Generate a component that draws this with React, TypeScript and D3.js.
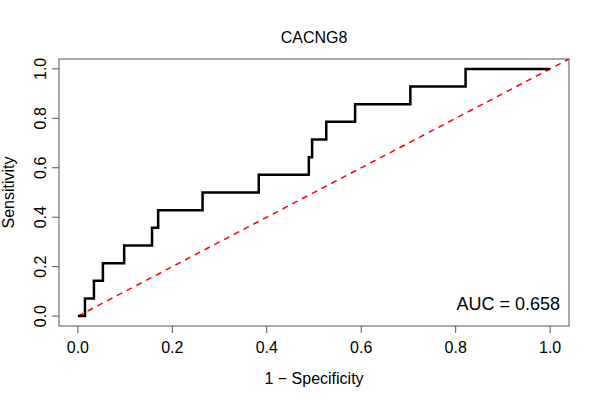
import React from "react";
import * as d3 from "d3";

const fpr = [0, 0.015, 0.015, 0.034, 0.034, 0.053, 0.053, 0.098, 0.098, 0.157, 0.157, 0.170, 0.170, 0.264, 0.264, 0.383, 0.383, 0.489, 0.489, 0.496, 0.496, 0.526, 0.526, 0.587, 0.587, 0.704, 0.704, 0.821, 0.821, 1.0];
const tprSteps = [0, 0, 1, 1, 2, 2, 3, 3, 4, 4, 5, 5, 6, 6, 7, 7, 8, 8, 9, 9, 10, 10, 11, 11, 12, 12, 13, 13, 14, 14];
const ticks = [0, 0.2, 0.4, 0.6, 0.8, 1.0];
const aucLabel = "AUC = 0.658";

export default function App() {
  const L = 59, R = 569, T = 59, B = 326;
  const x = d3.scaleLinear().domain([-0.04, 1.04]).range([L, R]);
  const y = d3.scaleLinear().domain([-0.04, 1.04]).range([B, T]);
  const pts: [number, number][] = fpr.map((f, i) => [f, tprSteps[i] / 14]);
  const line = d3.line<[number, number]>().x(d => x(d[0])).y(d => y(d[1]));
  const font = "Liberation Sans, Arial, sans-serif";
  return (
    <svg width={600} height={400} style={{ position: "absolute", left: 0, top: 0 }} fontFamily={font}>
      <rect width={600} height={400} fill="white" />
      <text x={314} y={43} textAnchor="middle" fontSize={16}>CACNG8</text>
      <path d={`M${x(0)},${y(0)}L${x(1.04)},${y(1.04)}`} stroke="#ff0000" strokeWidth={1.5} strokeDasharray="6,5" />
      <path d={line(pts)!} fill="none" stroke="black" strokeWidth={2.5} />
      <rect x={L} y={T} width={R - L} height={B - T} fill="none" stroke="#555" strokeWidth={1} />
      {ticks.map(t => (
        <g key={"x" + t}>
          <line x1={x(t)} x2={x(t)} y1={B} y2={B + 7} stroke="#555" />
          <text x={x(t)} y={B + 27} textAnchor="middle" fontSize={16}>{t.toFixed(1)}</text>
        </g>
      ))}
      {ticks.map(t => (
        <g key={"y" + t}>
          <line x1={L - 7} x2={L} y1={y(t)} y2={y(t)} stroke="#555" />
          <text transform={`translate(${L - 13},${y(t)}) rotate(-90)`} textAnchor="middle" fontSize={16}>{t.toFixed(1)}</text>
        </g>
      ))}
      <text x={314} y={384} textAnchor="middle" fontSize={16}>1 − Specificity</text>
      <text transform={`translate(14,${(T + B) / 2}) rotate(-90)`} textAnchor="middle" fontSize={16}>Sensitivity</text>
      <text x={560} y={310} textAnchor="end" fontSize={18}>{aucLabel}</text>
    </svg>
  );
}
